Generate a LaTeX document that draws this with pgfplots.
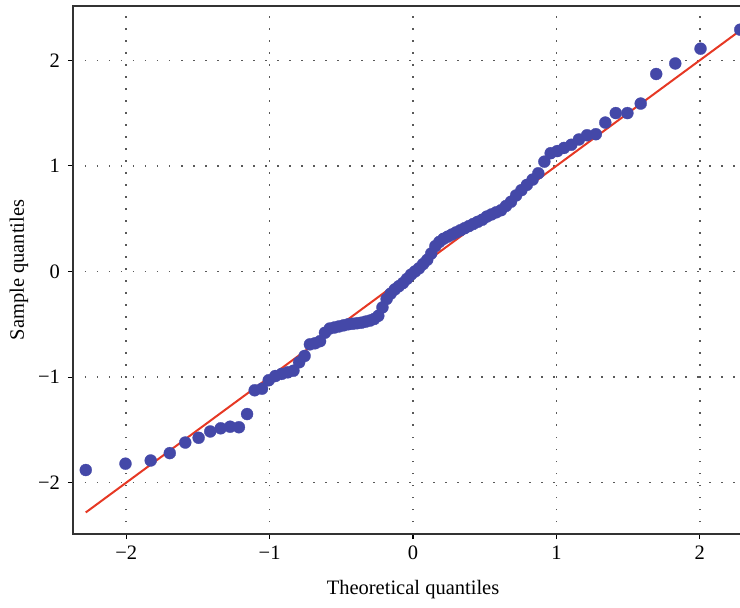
\documentclass[border=0pt]{standalone}
\usepackage{pgfplots}
\pgfplotsset{compat=1.18}
\usepackage{fontspec}
\setmainfont{Liberation Serif}
\definecolor{qqblue}{RGB}{68,72,168}
\definecolor{qqred}{RGB}{230,56,36}
\begin{document}
\fontsize{20.5bp}{24bp}\selectfont
\begin{tikzpicture}
\begin{axis}[name=ax, scale only axis, width=680bp, height=528bp,
 xmin=-2.371, xmax=2.371, ymin=-2.486, ymax=2.514,
 xtick={-2,-1,0,1,2}, xticklabels={−2,−1,0,1,2},
 ytick={-2,-1,0,1,2}, yticklabels={−2,−1,0,1,2},
 tick pos=left, tick align=outside, major tick length=5bp,
 tick style={black, line width=1.1bp},
 axis line style={line width=1.4bp, black!80},
 grid=major, grid style={black!65, line width=1.5bp, dash pattern=on 1.5bp off 10.5bp},
 xlabel={Theoretical quantiles}, ylabel={Sample quantiles},
 tick label style={font=\fontsize{20.5bp}{24bp}\selectfont},
 yticklabel style={xshift=-1bp},
 label style={font=\fontsize{20.5bp}{24bp}\selectfont},
 xlabel style={at={(axis description cs:0.5,-0.1155)}, anchor=base},
 ylabel style={at={(axis description cs:-0.0794,0.5)}, anchor=center},
]
\addplot[only marks, mark=*, mark size=6bp, mark options={fill=qqblue, draw=qqblue, line width=0.3bp}] table {
x y
-2.282 -1.88
-2.005 -1.82
-1.829 -1.79
-1.696 -1.72
-1.588 -1.62
-1.495 -1.575
-1.414 -1.515
-1.341 -1.485
-1.275 -1.47
-1.214 -1.475
-1.157 -1.35
-1.104 -1.125
-1.053 -1.11
-1.006 -1.03
-0.960 -0.99
-0.916 -0.97
-0.874 -0.955
-0.834 -0.94
-0.794 -0.86
-0.756 -0.80
-0.719 -0.69
-0.683 -0.68
-0.648 -0.66
-0.614 -0.58
-0.580 -0.54
-0.547 -0.53
-0.515 -0.52
-0.483 -0.51
-0.451 -0.50
-0.420 -0.495
-0.390 -0.49
-0.360 -0.485
-0.330 -0.475
-0.300 -0.465
-0.271 -0.45
-0.242 -0.42
-0.213 -0.34
-0.184 -0.26
-0.156 -0.21
-0.127 -0.17
-0.099 -0.14
-0.070 -0.11
-0.042 -0.07
-0.014 -0.03
0.014 0.00
0.042 0.03
0.070 0.07
0.099 0.11
0.127 0.17
0.156 0.24
0.184 0.28
0.213 0.31
0.242 0.33
0.271 0.35
0.300 0.37
0.330 0.39
0.360 0.41
0.390 0.43
0.420 0.45
0.451 0.47
0.483 0.49
0.515 0.52
0.547 0.54
0.580 0.56
0.614 0.58
0.648 0.62
0.683 0.66
0.719 0.72
0.756 0.77
0.794 0.82
0.834 0.87
0.874 0.93
0.916 1.04
0.960 1.12
1.006 1.14
1.053 1.17
1.104 1.20
1.157 1.25
1.214 1.29
1.275 1.30
1.341 1.41
1.414 1.50
1.495 1.50
1.588 1.59
1.696 1.87
1.829 1.97
2.005 2.11
2.282 2.29
};
\addplot[qqred, line width=2bp] coordinates {(-2.282,-2.282) (2.282,2.282)};
\end{axis}
\pgfresetboundingbox
\path[use as bounding box] ([shift={(-73bp,-74bp)}]ax.south west) rectangle ([shift={(-13bp,6bp)}]ax.north east);
\end{tikzpicture}
\end{document}
